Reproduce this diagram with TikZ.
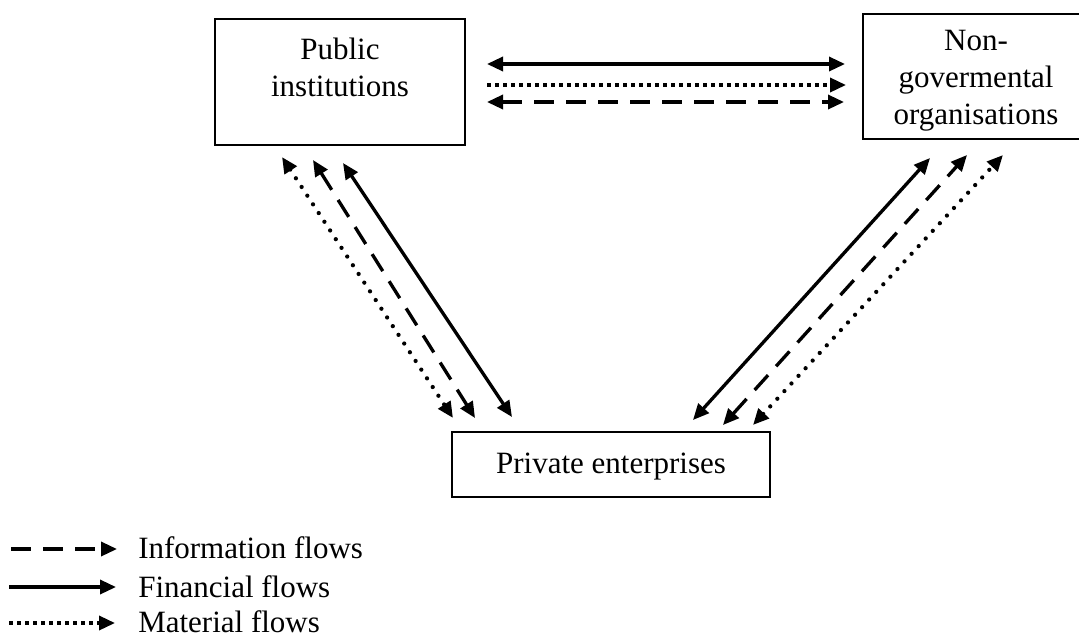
\documentclass[tikz,border=0pt]{standalone}
\usepackage{fontspec}
\setmainfont{Liberation Serif}
\usetikzlibrary{arrows.meta}
\begin{document}
\begin{tikzpicture}[x=0.75pt,y=-0.75pt,
  box/.style={draw, line width=1.1pt, inner sep=0pt},
  lbl/.style={inner sep=0pt, align=center, font=\fontsize{23.25}{27.75}\selectfont},
  tip/.style={-{Triangle[length=12pt,width=10.5pt]}},
  tips/.style={{Triangle[length=12pt,width=10.5pt]}-{Triangle[length=12pt,width=10.5pt]}},
  fin/.style={line width=2.5pt},
  info/.style={line width=2.5pt, dash pattern=on 15pt off 9pt},
  math/.style={line width=2.6pt, dash pattern=on 2.8pt off 3.2pt},
  matd/.style={line width=3.2pt, line cap=round, dash pattern=on 0pt off 7.8pt}]
\useasboundingbox (0,0) rectangle (1079,637);
\begin{scope}
\clip (0,0) rectangle (1079,637);
% boxes
\node[box, minimum width=187.5pt, minimum height=94.5pt] (pub) at (340,82) {};
\node[lbl, anchor=north] (pubt) at (340,38) {Public\\institutions};
\node[box, minimum width=169.5pt, minimum height=93.75pt] (ngo) at (976,76.5) {};
\node[lbl, anchor=north] (ngot) at (976,30) {Non-\\govermental\\organisations};
\node[box, minimum width=238.5pt, minimum height=48.75pt] (priv) at (611,464.5) {};
\node[lbl, anchor=base] (privt) at (611,473) {Private enterprises};

% horizontal flows
\coordinate (h1a) at (487,64);  \coordinate (h1b) at (845,64);
\coordinate (h2a) at (487,85);  \coordinate (h2b) at (846,85);
\coordinate (h3a) at (487,102); \coordinate (h3b) at (844,102);
\draw[fin, tips] (h1a) -- (h1b);
\draw[math, tip] (h2a) -- (h2b);
\draw[info, tips] (h3a) -- (h3b);

% left diagonals
\coordinate (l1a) at (282,157); \coordinate (l1b) at (453,418);
\coordinate (l2a) at (313,160); \coordinate (l2b) at (475,418);
\coordinate (l3a) at (343,163); \coordinate (l3b) at (512,417);
\draw[matd, tips] (l1a) -- (l1b);
\draw[info, tips] (l2a) -- (l2b);
\draw[fin, tips] (l3a) -- (l3b);

% right diagonals
\coordinate (r1a) at (693,420); \coordinate (r1b) at (930,158);
\coordinate (r2a) at (723,425); \coordinate (r2b) at (967,155);
\coordinate (r3a) at (753,425); \coordinate (r3b) at (1003,155);
\draw[fin, tips] (r1a) -- (r1b);
\draw[info, tips] (r2a) -- (r2b);
\draw[matd, tips] (r3a) -- (r3b);

% legend
\coordinate (g1a) at (11,549); \coordinate (g1b) at (117,549);
\coordinate (g2a) at (9,587);  \coordinate (g2b) at (116,587);
\coordinate (g3a) at (9,623);  \coordinate (g3b) at (115,623);
\draw[info, tip] (g1a) -- (g1b);
\draw[fin, tip] (g2a) -- (g2b);
\draw[math, tip] (g3a) -- (g3b);
\node[lbl, anchor=base west] (g1t) at (138,558) {Information flows};
\node[lbl, anchor=base west] (g2t) at (138,597) {Financial flows};
\node[lbl, anchor=base west] (g3t) at (138,632) {Material flows};
\end{scope}
\end{tikzpicture}
\end{document}
